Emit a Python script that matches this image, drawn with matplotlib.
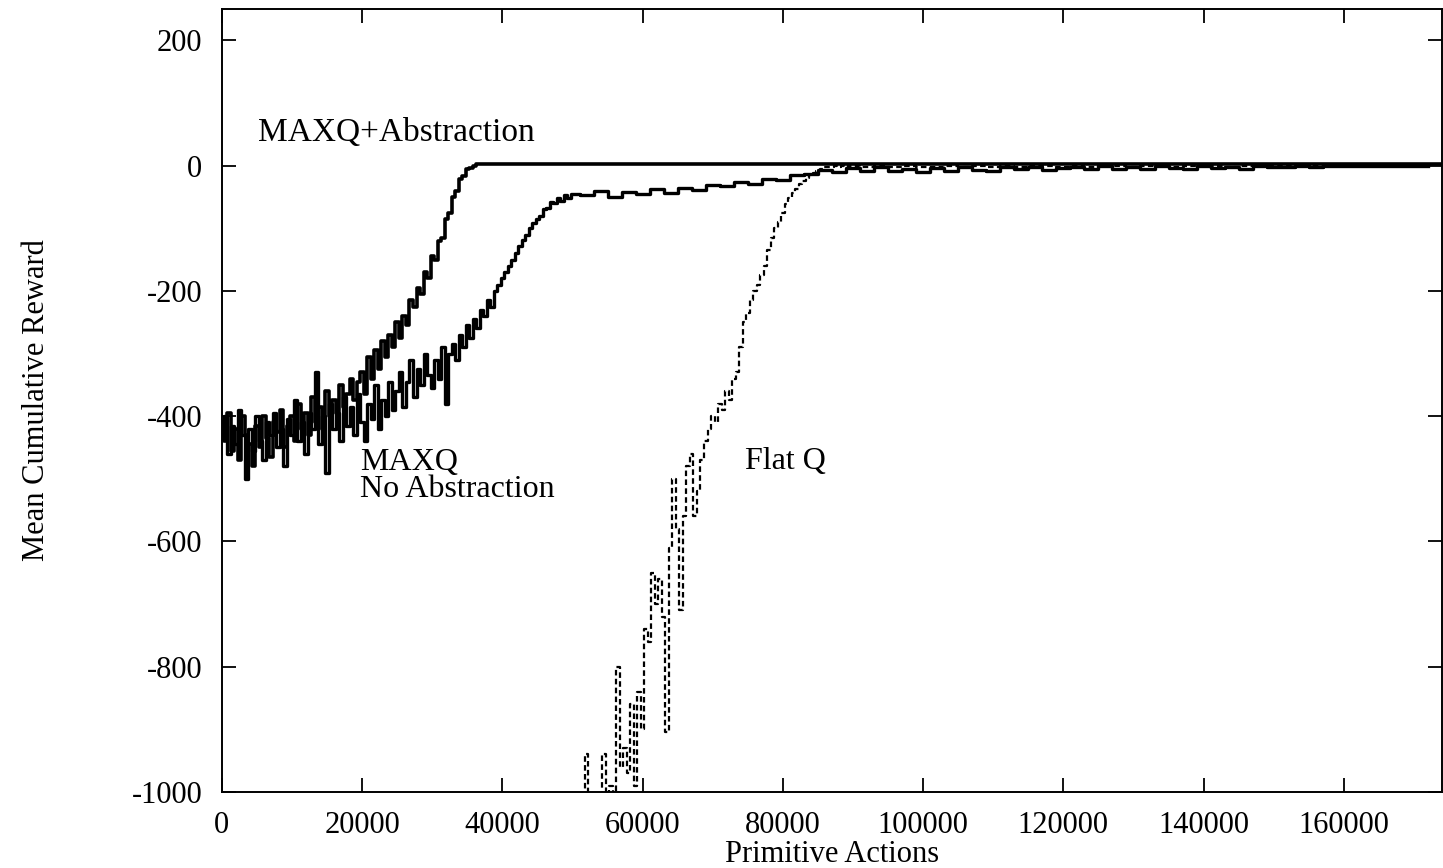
import numpy as np
import matplotlib
matplotlib.use("Agg")
import matplotlib.pyplot as plt

plt.rcParams['font.family'] = ['Liberation Serif', 'DejaVu Serif']
plt.rcParams['axes.unicode_minus'] = False

# sampled every 500 primitive actions during learning, then sparse once converged
step_early = 500

maxq_abs_early = [
    -410, -440, -395, -455, -420, -470, -400, -430, -445, -480,
    -415, -450, -400, -435, -465, -410, -425, -390, -450, -415,
    -400, -440, -380, -420, -395, -430, -370, -410, -385, -420,
    -360, -400, -375, -395, -350, -385, -365, -340, -375, -345,
    -330, -365, -305, -340, -295, -325, -280, -305, -270, -290,
    -250, -275, -240, -255, -215, -225, -195, -205, -170, -180,
    -145, -150, -120, -115, -85, -75, -50, -40, -22, -16,
    -6, -4, 0, 2, 2, 2, 2, 2, 2, 2, 2,
]
maxq_abs_late_x = [50000, 75000, 100000, 125000, 150000, 174000]
maxq_abs_late = [2, 2, 2, 2, 2, 2]

maxq_noabs_early = [
    -430, -400, -460, -415, -445, -390, -430, -500, -420, -455,
    -400, -440, -470, -410, -430, -395, -450, -420, -480, -405,
    -430, -375, -440, -410, -460, -395, -420, -330, -445, -400,
    -490, -380, -420, -395, -440, -370, -415, -385, -430, -365,
    -410, -440, -380, -405, -350, -420, -375, -400, -345, -390,
    -360, -330, -385, -345, -310, -370, -325, -350, -300, -335,
    -355, -310, -340, -290, -380, -300, -285, -310, -270, -290,
    -255, -275, -245, -260, -230, -240, -215, -225, -200, -190,
    -180, -170, -160, -150, -140, -128, -118, -110, -100, -92,
    -85, -80, -70, -68, -58, -60, -52, -56, -47, -52, -46,
]
maxq_noabs_late = [
    -47, -40, -50, -42, -46, -38, -44, -35, -39, -31,
    -33, -26, -29, -21, -23, -15, -14, -7, -10, -4,
    -9, -3, -8, -5, -10, -4, -8, -3, -7, -9,
    -3, -6, -2, -7, -4, -2, -6, -1, -5, -3,
    -6, -1, -4, -5, -1, -4, -2, -5, -1, -3,
    -2, 0, -2, -1, 0, -1, 0, 0, 0, 0, 0,
]

flatq_start = 50000
flatq_early = [
    -1150, -1100, -1120, -1060, -940, -1080, -1050, -1100, -1020, -940,
    -1060, -990, -1010, -800, -960, -930, -970, -860, -990, -840,
    -900, -740, -760, -650, -700, -660, -720, -905, -610, -500,
    -580, -710, -560, -480, -460, -560, -520, -470, -440, -420,
    -400, -410, -380, -390, -360, -375, -340, -330, -290, -250,
    -235, -215, -200, -190, -175, -160, -135, -115, -100, -90,
    -75, -62, -52, -44, -38, -30, -24, -20, -15, -12,
    -8, -5, -3, -2, -2, -1, -2, -1, -2, -1, -1,
]
flatq_late = [
    -2, -1, -3, -1, -2, -2, -1, -3, -1, -2,
    -1, -2, -1, -1, -2, -1, -2, -1, -1, -2,
    -1, -1, -2, -1, -1, -1, -2, -1, -1, 0,
    -1, 0, -1, 0, 0, -1, 0, 0, 0, 0, 0,
]

x_ticks = [0, 20000, 40000, 60000, 80000, 100000, 120000, 140000, 160000]
y_ticks = [200, 0, -200, -400, -600, -800, -1000]

fig = plt.figure(figsize=(14.43, 8.68), dpi=100)
ax = fig.add_axes([0.1538, 0.0876, 0.8455, 0.902])

x_abs = np.concatenate([np.arange(len(maxq_abs_early)) * step_early, maxq_abs_late_x])
y_abs = np.concatenate([maxq_abs_early, maxq_abs_late])
x_noabs = np.concatenate([np.arange(len(maxq_noabs_early)) * step_early,
                          52000 + np.arange(len(maxq_noabs_late)) * 2000])
y_noabs = np.concatenate([maxq_noabs_early, maxq_noabs_late])
x_flat = np.concatenate([flatq_start + np.arange(len(flatq_early)) * step_early,
                         92000 + np.arange(len(flatq_late)) * 2000])
y_flat = np.concatenate([flatq_early, flatq_late])

ax.plot(x_noabs, y_noabs, color='black', lw=2.4, drawstyle='steps-mid')
ax.plot(x_flat, y_flat, color='black', lw=1.6, ls=(0, (2.5, 1.5)), drawstyle='steps-mid')
ax.plot(x_abs, y_abs, color='black', lw=2.6, drawstyle='steps-mid')

ax.set_xlim(0, 174000)
ax.set_ylim(-1000, 250)
ax.set_xticks(x_ticks)
ax.set_yticks(y_ticks)
ax.tick_params(direction='in', length=10, width=1.3, labelsize=22,
               top=True, right=True, pad=14)
for s in ax.spines.values():
    s.set_linewidth(1.4)

ax.set_xlabel("Primitive Actions", fontsize=22, labelpad=0)
ax.set_ylabel("Mean Cumulative Reward", fontsize=22, labelpad=58)

ax.text(5100, 53, "MAXQ+Abstraction", fontsize=24, va='center', ha='left')
ax.text(19700, -496, "MAXQ\nNo Abstraction", fontsize=23, va='center', ha='left',
        linespacing=0.92)
ax.text(74600, -472, "Flat Q", fontsize=23, va='center', ha='left')

fig.savefig("out.png", dpi=100)
